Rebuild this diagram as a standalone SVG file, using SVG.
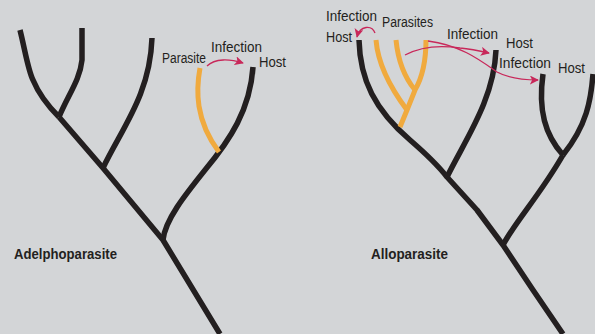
<svg xmlns="http://www.w3.org/2000/svg" width="595" height="334" viewBox="0 0 595 334">
<defs>
<style>
.br{fill:none;stroke:#231f20;stroke-width:5.5;stroke-linejoin:round}
.pa{fill:none;stroke:#f0aa3e;stroke-width:5}
.ar{fill:none;stroke:#c8285a;stroke-width:1.3}
.lb{font-family:"Liberation Sans",Arial,sans-serif;font-size:14px;fill:#231f20}
.tt{font-family:"Liberation Sans",Arial,sans-serif;font-size:14px;font-weight:bold;fill:#231f20}
</style>
<marker id="ah" viewBox="0 0 10 10" refX="9" refY="5" markerWidth="9" markerHeight="9" markerUnits="userSpaceOnUse" orient="auto">
<path d="M0,0 L10,5 L0,10 L2.5,5 Z" fill="#c8285a"/>
</marker>
</defs>
<rect width="595" height="334" fill="#d3d5d7"/>
<g id="adelpho-tree">
<path class="br" d="M20,30 C25,50 28,70 33,80 C40,97 50,108 59,117"/>
<path class="br" d="M82,28 L82,60 C80,80 68,95 59,117"/>
<path class="br" d="M59,117 L103,168 L163,240 L220,334"/>
<path class="br" d="M152,38 C150,95 122,128 103,168"/>
<path class="br" d="M253,67 C250,110 230,140 205,170 C185,195 165,220 163,240"/>
</g>
<g id="adelpho-parasite">
<path class="pa" d="M200,68 C196,90 195,120 219,152"/>
</g>
<g id="allo-tree">
<path class="br" d="M359,40 C360,80 375,110 410,140 C425,153 440,168 447,177 L477,210 L503,245 L533,290 L563,334"/>
<path class="br" d="M496,50 C494,100 465,140 447,177"/>
<path class="br" d="M503,245 C515,222 540,195 563,155"/>
<path class="br" d="M543,74 C538,110 545,135 563,155"/>
<path class="br" d="M593,74 C591,100 587,125 563,155"/>
</g>
<g id="allo-parasites">
<path class="pa" d="M426,40 C426,60 422,78 415,90 L407,110 L400,127"/>
<path class="pa" d="M396,40 C398,60 405,78 415,90"/>
<path class="pa" d="M376,40 C378,65 392,90 407,110"/>
</g>
<g id="connectors">
<path class="ar" marker-end="url(#ah)" d="M207,66 C215,58 230,59 243,63"/>
<path class="ar" marker-end="url(#ah)" d="M375,33 C372,25 360,25 357,37"/>
<path class="ar" marker-end="url(#ah)" d="M405,55 C420,47 440,45 460,48 C470,49 480,51 489,53"/>
<path class="ar" marker-end="url(#ah)" d="M428,41 C460,45 480,60 497,72 C510,79 525,80 538,80"/>
</g>
<g id="labels">
<text class="lb" x="162" y="63" textLength="44" lengthAdjust="spacingAndGlyphs">Parasite</text>
<text class="lb" x="211" y="52" textLength="51" lengthAdjust="spacingAndGlyphs">Infection</text>
<text class="lb" x="259" y="67" textLength="27" lengthAdjust="spacingAndGlyphs">Host</text>
<text class="lb" x="326" y="21" textLength="51" lengthAdjust="spacingAndGlyphs">Infection</text>
<text class="lb" x="326" y="42" textLength="26" lengthAdjust="spacingAndGlyphs">Host</text>
<text class="lb" x="382" y="27" textLength="51" lengthAdjust="spacingAndGlyphs">Parasites</text>
<text class="lb" x="447" y="39" textLength="51" lengthAdjust="spacingAndGlyphs">Infection</text>
<text class="lb" x="506" y="48" textLength="27" lengthAdjust="spacingAndGlyphs">Host</text>
<text class="lb" x="499" y="68" textLength="52" lengthAdjust="spacingAndGlyphs">Infection</text>
<text class="lb" x="558" y="73" textLength="27" lengthAdjust="spacingAndGlyphs">Host</text>
<text class="tt" x="14" y="259" textLength="103" lengthAdjust="spacingAndGlyphs">Adelphoparasite</text>
<text class="tt" x="371" y="259" textLength="77" lengthAdjust="spacingAndGlyphs">Alloparasite</text>
</g>
</svg>
